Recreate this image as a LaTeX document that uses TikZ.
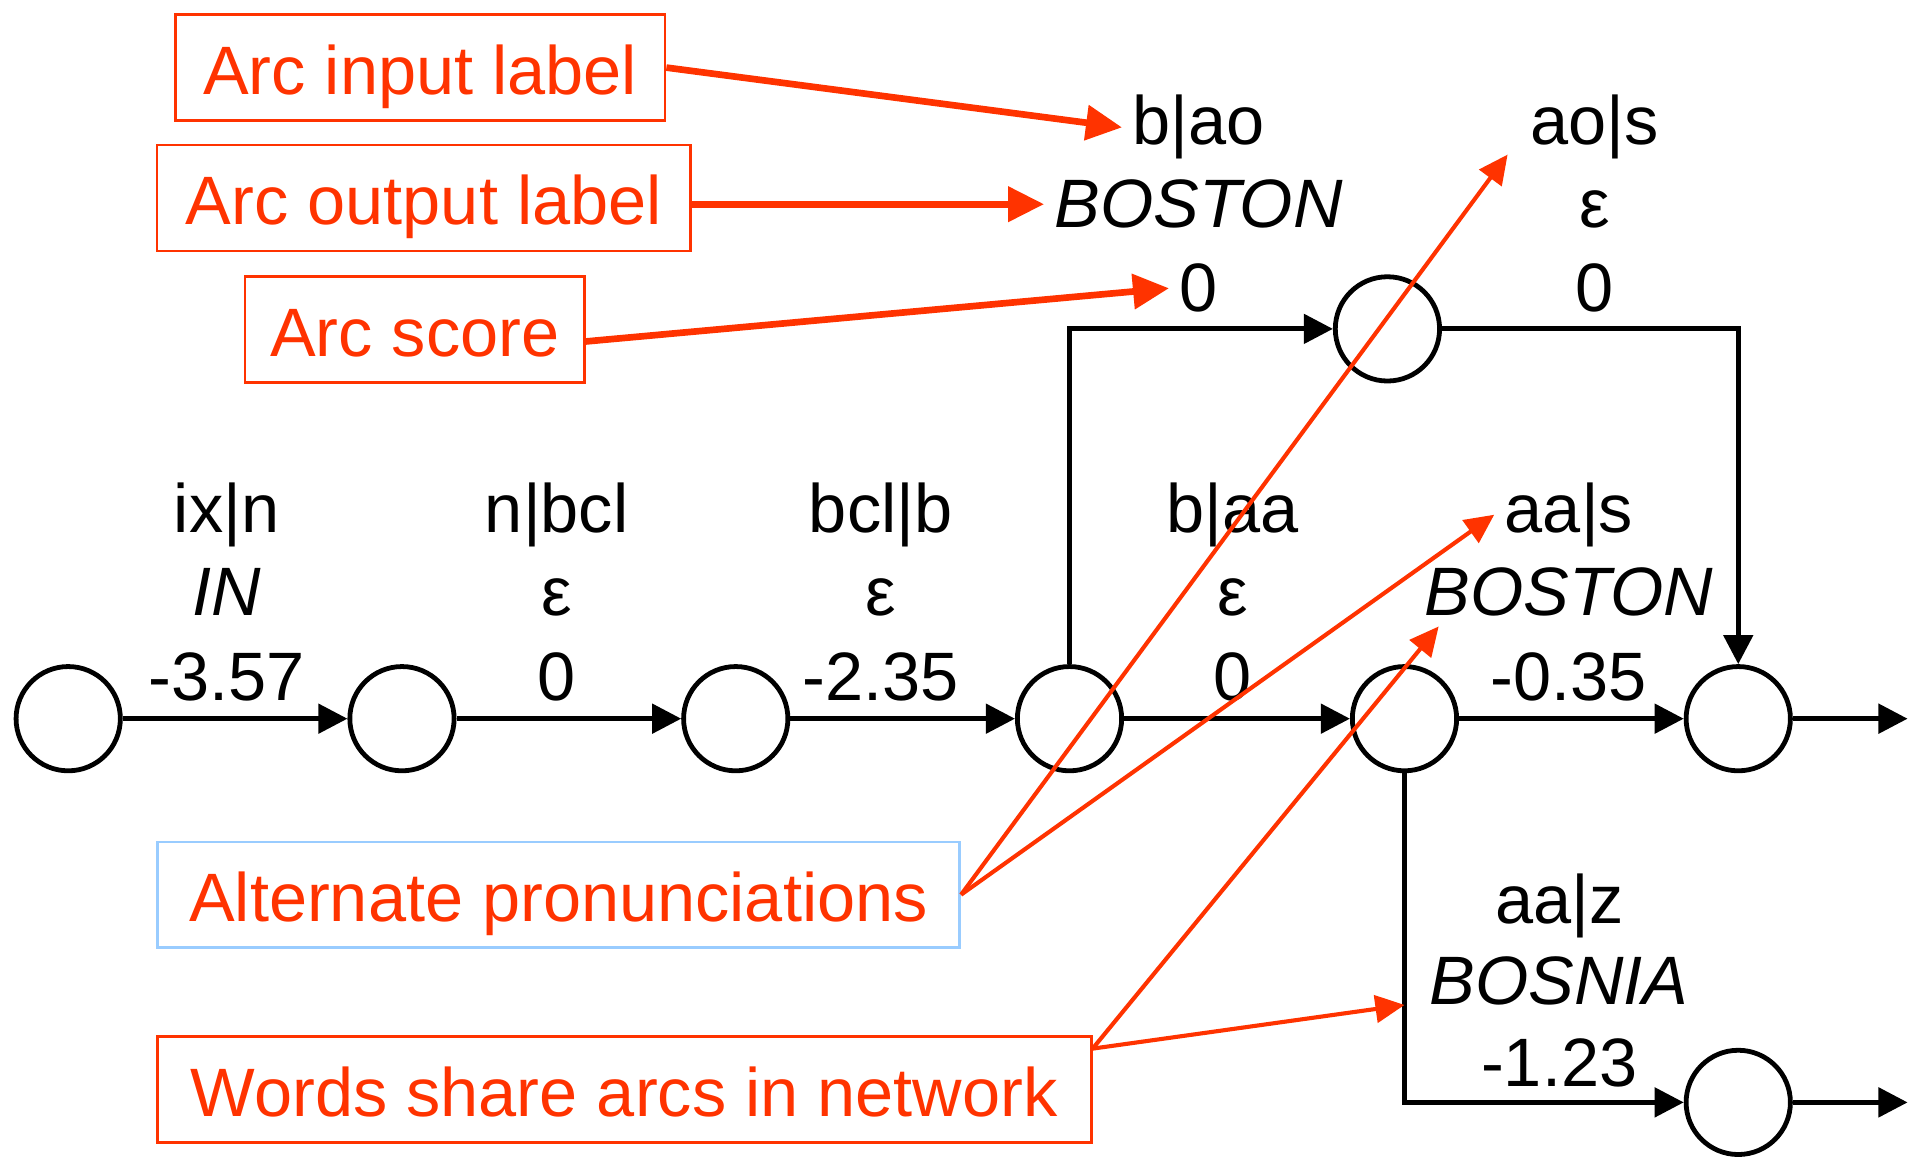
\documentclass[tikz,border=0pt]{standalone}
\usepackage{fontspec}
\setmainfont{Liberation Sans}
\usetikzlibrary{positioning,calc,arrows.meta}

\definecolor{callred}{RGB}{255,51,0}
\definecolor{callblue}{RGB}{153,204,255}

\begin{document}
\begin{tikzpicture}[
    font=\fontsize{40}{48}\selectfont,
    state/.style={circle, draw, line width=2.8pt, minimum size=2.14cm, inner sep=0pt},
    arclab/.style={anchor=base, inner sep=6pt},
    callout/.style={draw=callred, text=callred, line width=1.5pt, minimum height=2.17cm, text height=1.1cm, text depth=0pt},
    trans/.style={draw, line width=2.8pt, -{Triangle[length=17pt,width=17pt]}},
    bigpoint/.style={draw=callred, line width=3.9pt, -{Triangle[length=21pt,width=20pt]}},
    thinpoint/.style={draw=callred, line width=2.4pt, -{Triangle[length=17pt,width=16pt]}}
]
\useasboundingbox (0,0) rectangle (39.2,23.775);

% States
\node[state] (s0) at (1.4,9.025) {};
\node[state] (s1) at (8.25,9.025) {};
\node[state] (s2) at (15.1,9.025) {};
\node[state] (s3) at (21.95,9.025) {};
\node[state] (s4) at (28.825,9.025) {};
\node[state] (s5) at (35.675,9.025) {};
\node[state] (s6) at (28.475,17.025) {};
\node[state] (s7) at (35.675,1.15) {};
\coordinate (end5) at (39.15,9.025);
\coordinate (end7) at (39.15,1.15);

% Transitions
\draw[trans] (s0) -- (s1);
\draw[trans] (s1) -- (s2);
\draw[trans] (s2) -- (s3);
\draw[trans] (s3) -- (s4);
\draw[trans] (s4) -- (s5);
\draw[trans] (s3) |- (s6);
\draw[trans] (s6) -| (s5);
\draw[trans] (s4) |- (s7);
\draw[trans] (s5) -- (end5);
\draw[trans] (s7) -- (end7);

% Arc labels: input, output, score
\node[arclab] (in01) at (4.65,12.85) {ix|n};
\node[arclab] (out01) at (4.65,11.15) {\itshape IN};
\node[arclab] (sc01) at (4.65,9.4) {-3.57};

\node[arclab] (in12) at (11.425,12.85) {n|bcl};
\node[arclab] (out12) at (11.425,11.15) {ε};
\node[arclab] (sc12) at (11.425,9.4) {0};

\node[arclab] (in23) at (18.075,12.85) {bcl|b};
\node[arclab] (out23) at (18.075,11.15) {ε};
\node[arclab] (sc23) at (18.075,9.4) {-2.35};

\node[arclab] (in34) at (25.3,12.85) {b|aa};
\node[arclab] (out34) at (25.3,11.15) {ε};
\node[arclab] (sc34) at (25.3,9.4) {0};

\node[arclab] (in45) at (32.2,12.85) {aa|s};
\node[arclab] (out45) at (32.2,11.15) {\itshape BOSTON};
\node[arclab] (sc45) at (32.2,9.4) {-0.35};

\node[arclab] (in36) at (24.6,20.8) {b|ao};
\node[arclab] (out36) at (24.6,19.1) {\itshape BOSTON};
\node[arclab] (sc36) at (24.6,17.375) {0};

\node[arclab] (in65) at (32.725,20.8) {ao|s};
\node[arclab] (out65) at (32.725,19.1) {ε};
\node[arclab] (sc65) at (32.725,17.375) {0};

\node[arclab] (in47) at (32.0,4.825) {aa|z};
\node[arclab] (out47) at (32.0,3.15) {\itshape BOSNIA};
\node[arclab] (sc47) at (32.0,1.475) {-1.23};

% Callouts
\node[callout, minimum width=10.05cm] (inbox) at (8.625,22.3875) {Arc input label};
\node[callout, minimum width=10.95cm] (outbox) at (8.7,19.7125) {Arc output label};
\node[callout, minimum width=6.97cm] (scorebox) at (8.5125,17.0125) {Arc score};
\node[callout, draw=callblue, minimum width=16.47cm] (altbox) at (11.4625,5.4125) {Alternate pronunciations};
\node[callout, minimum width=19.17cm] (wordbox) at (12.8125,1.4125) {Words share arcs in network};

% Pointers
\draw[bigpoint] (inbox.east) -- (in36.west);
\draw[bigpoint] (outbox.east |- out36.west) -- (out36.west);
\draw[bigpoint] (scorebox.-4) -- (sc36.west);
\draw[thinpoint] (altbox.east) -- ([xshift=-0.25cm]in65.200);
\draw[thinpoint] (altbox.east) -- (in45.west);
\draw[thinpoint] (wordbox.5) -- ([xshift=0.5cm]out45.south west);
\draw[thinpoint] (wordbox.5) -- ([xshift=-0.3cm]out47.base west);

\end{tikzpicture}
\end{document}
